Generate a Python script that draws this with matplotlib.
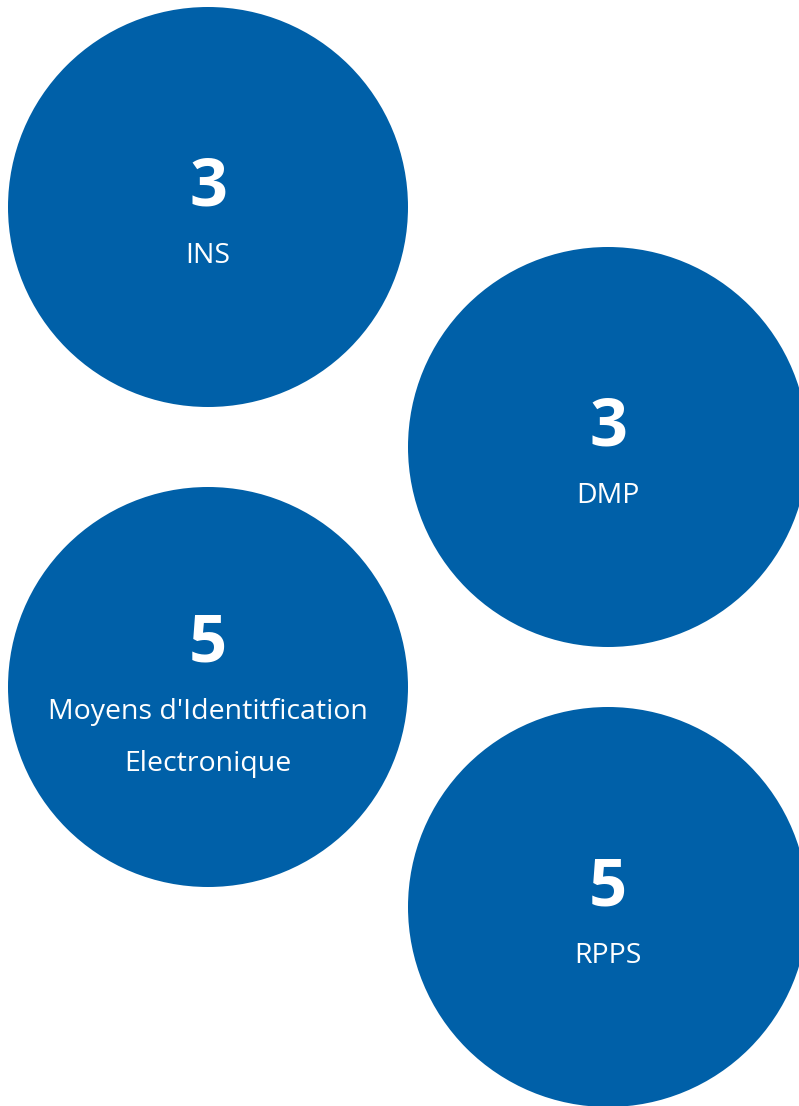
import matplotlib
matplotlib.use("Agg")
import matplotlib.pyplot as plt
from matplotlib.patches import Circle

# data
values = [3, 3, 5, 5]
labels = ["INS", "DMP", "Moyens d'Identitfication\nElectronique", "RPPS"]

# layout (pixel coords of circle centers)
centers_x = [208, 608, 208, 608]
centers_y = [207, 447, 687, 907]
radius = 200
blue = "#0060A8"

W, H = 799, 1106
fig = plt.figure(figsize=(W / 100, H / 100), dpi=100)
ax = fig.add_axes([0, 0, 1, 1])
ax.set_xlim(0, W)
ax.set_ylim(H, 0)
ax.axis("off")

for v, lab, cx, cy in zip(values, labels, centers_x, centers_y):
    ax.add_patch(Circle((cx, cy), radius, color=blue, lw=0))
    nlines = lab.count("\n") + 1
    # number sits above the label block
    num_y = cy - 19 - (nlines - 1) * 24
    ax.text(cx, num_y, str(v), ha="center", va="center", color="white",
            fontsize=48, fontweight="bold", family="Open Sans")
    lab_y = num_y + 68
    for i, line in enumerate(lab.split("\n")):
        ax.text(cx, lab_y + i * 52, line, ha="center", va="center", color="white",
                fontsize=20.5, family="Open Sans")

fig.savefig("out.png", dpi=100)
